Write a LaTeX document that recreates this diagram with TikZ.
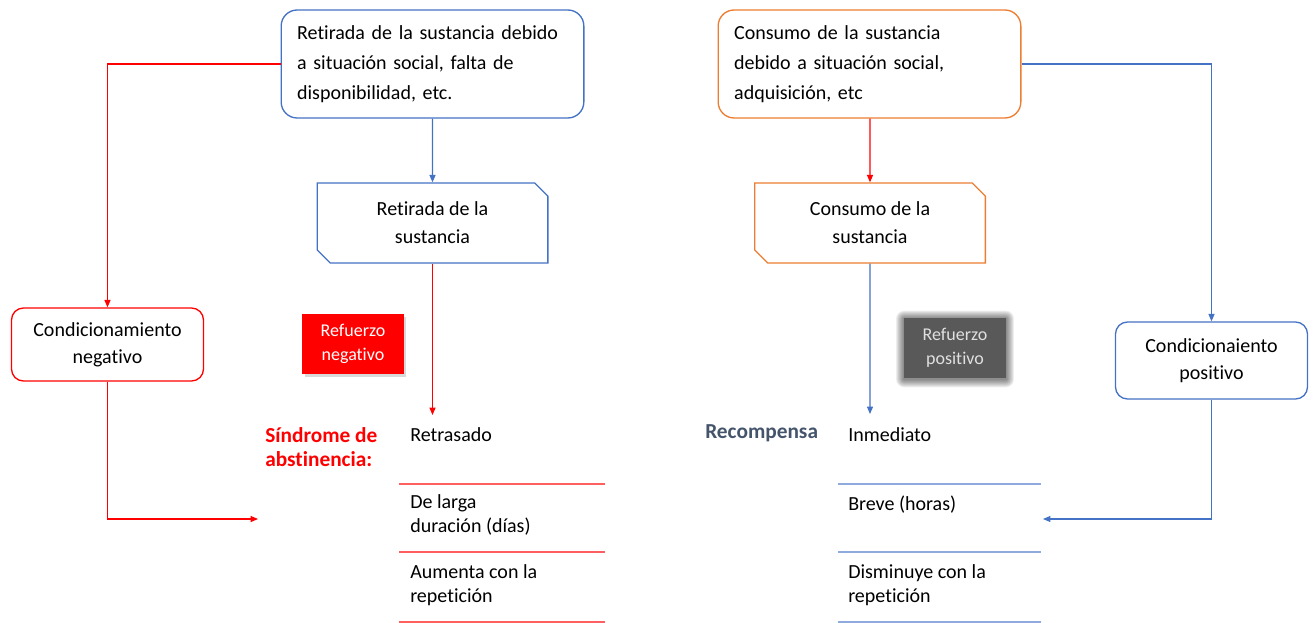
\documentclass[tikz,border=0pt]{standalone}
\usepackage{fontspec}
\setmainfont{Carlito}[Ligatures=NoCommon]
\usetikzlibrary{arrows.meta}
\usetikzlibrary{shapes.misc}
\usetikzlibrary{shadows}
\usetikzlibrary{backgrounds}
\definecolor{cblue}{HTML}{4472C4}
\definecolor{corange}{HTML}{ED7D31}
\definecolor{cred}{HTML}{FF0000}
\definecolor{lred}{HTML}{FF5F5F}
\definecolor{lblue}{HTML}{8FAADC}
\definecolor{cslate}{HTML}{44546A}
\definecolor{cgray}{HTML}{595959}

\begin{document}
\begin{tikzpicture}[
  x=0.75pt, y=-0.75pt,
  every node/.style={font=\fontsize{15}{18}\selectfont},
  arr/.style={-{Triangle[length=5.5pt,width=4.5pt]}, line width=0.8pt},
  topbox/.style={draw, rounded corners=12pt, line width=1pt, fill=white,
    text width=203pt, inner xsep=12pt, minimum height=81pt, align=left,
    font=\fontsize{15}{22.5}\selectfont},
  snipbox/.style={draw, chamfered rectangle,
    chamfered rectangle corners={north east,south west},
    chamfered rectangle xsep=4.9pt, chamfered rectangle ysep=4.9pt,
    line width=1pt, minimum width=173pt, minimum height=60pt, align=center,
    font=\fontsize{15}{21}\selectfont},
  condbox/.style={draw, rounded corners=9pt, line width=1pt, align=center,
    minimum width=144pt, font=\fontsize{15}{20.5}\selectfont},
  refbox/.style={minimum width=76pt, minimum height=45pt, align=center,
    inner sep=0pt, font=\fontsize{13.5}{18}\selectfont},
  item/.style={anchor=west, align=left, inner sep=0pt},
  head/.style={item, font=\bfseries\fontsize{16}{18}\selectfont},
  sep/.style={line width=1.5pt},
]
\useasboundingbox (0,0) rectangle (1314,623);

\node [topbox, draw=cblue] (retA) at (432.5,64)
  {Retirada de la sustancia debido\\a situación social, falta de\\disponibilidad, etc.};
\node [topbox, draw=corange] (conA) at (869.5,64)
  {Consumo de la sustancia\\debido a situación social,\\adquisición, etc};

\node [snipbox, draw=cblue] (retB) at (432.5,223) {Retirada de la\\sustancia};
\node [snipbox, draw=corange] (conB) at (870,223) {Consumo de la\\sustancia};

\node [condbox, draw=cred, minimum height=54.75pt] (neg) at (107.5,344.5)
  {Condicionamiento\\negativo};
\node [condbox, draw=cblue, minimum height=57.75pt] (pos) at (1211.5,360.5)
  {Condicionaiento\\positivo};

\node [refbox, fill=cred, text=white,
  drop shadow={shadow xshift=2pt, shadow yshift=-2pt, opacity=0.3}]
  (refN) at (353,344) {Refuerzo\\negativo};
\node [refbox, fill=cgray, text=white!88!black] (refP) at (955,348) {Refuerzo\\positivo};
\begin{scope}[on background layer]
  \foreach \d in {1,...,8}
    \fill [black, opacity=0.07, rounded corners=\d*0.75pt]
      ([shift={(-\d,-\d+1)}]refP.north west) rectangle ([shift={(\d,\d+1)}]refP.south east);
\end{scope}

\node [head, text=cred] (sind) at (265,447) {Síndrome de\\abstinencia:};
\node [head, text=cslate] (recomp) at (705,433) {Recompensa};

\node [item] (lRet) at (410,435) {Retrasado};
\node [item] (lDur) at (410,515) {De larga\\duración (días)};
\node [item] (lRep) at (410,585) {Aumenta con la\\repetición};
\draw [sep, lred] (399,484) -- (605,484);
\draw [sep, lred] (399,552) -- (605,552);
\draw [sep, lred] (399,622) -- (605,622);

\node [item] (rInm) at (848,435) {Inmediato};
\node [item] (rBre) at (848,505) {Breve (horas)};
\node [item] (rRep) at (848,585) {Disminuye con la\\repetición};
\draw [sep, lblue] (838,484) -- (1041,484);
\draw [sep, lblue] (838,552) -- (1041,552);
\draw [sep, lblue] (838,622) -- (1041,622);

\coordinate (retEnd) at (432.5,415);
\coordinate (conEnd) at (870,414);
\coordinate (negEnd) at (258,519);
\coordinate (posEnd) at (1043,519);

\draw [arr, cblue] (retA) -- (retB);
\draw [arr, cred] (conA.south -| conB) -- (conB);
\draw [arr, cred] (retB) -- (retEnd);
\draw [arr, cblue] (conB) -- (conEnd);
\draw [arr, cred] (retA.west) -| (neg.north);
\draw [arr, cred] (neg.south) |- (negEnd);
\draw [arr, cblue] (conA.east) -| (pos.north);
\draw [arr, cblue] (pos.south) |- (posEnd);

\end{tikzpicture}
\end{document}
